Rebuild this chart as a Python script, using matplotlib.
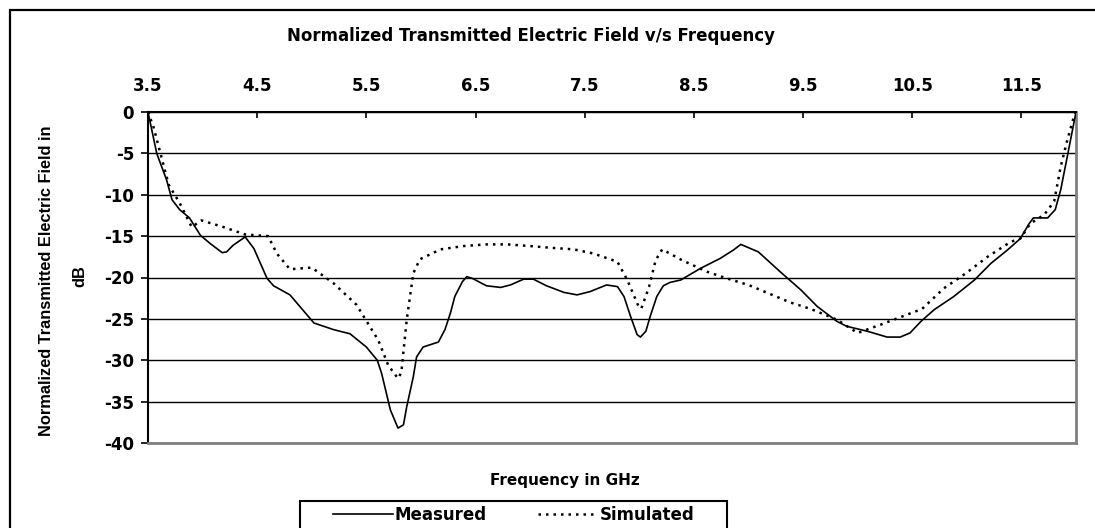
import matplotlib
matplotlib.use("Agg")
import matplotlib.pyplot as plt
from matplotlib.patches import Rectangle

# ---- data ----
meas_x = [3.50, 3.58, 3.67, 3.72, 3.79, 3.88, 3.98, 4.07, 4.18, 4.22, 4.28, 4.39, 4.47,
          4.59, 4.65, 4.80, 5.02, 5.20, 5.35, 5.50, 5.60, 5.64, 5.72, 5.79, 5.84, 5.87,
          5.93, 5.96, 6.02, 6.16, 6.22, 6.27, 6.31, 6.38, 6.42, 6.47, 6.60, 6.73, 6.82,
          6.94, 7.03, 7.15, 7.31, 7.43, 7.55, 7.70, 7.80, 7.86, 7.92, 7.98, 8.01, 8.06,
          8.10, 8.16, 8.22, 8.28, 8.38, 8.56, 8.74, 8.86, 8.93, 9.09, 9.29, 9.48, 9.63,
          9.81, 9.90, 10.09, 10.27, 10.39, 10.48, 10.58, 10.70, 10.88, 11.07, 11.22,
          11.37, 11.49, 11.57, 11.61, 11.74, 11.81, 11.86, 11.92, 12.00]
meas_y = [0.0, -5.0, -8.2, -10.6, -11.8, -12.8, -14.9, -15.9, -17.0, -16.9, -16.1, -15.1, -16.5,
          -20.1, -21.0, -22.1, -25.5, -26.3, -26.8, -28.4, -30.0, -31.6, -36.0, -38.2, -37.8, -35.6,
          -32.0, -29.6, -28.4, -27.8, -26.3, -24.3, -22.3, -20.5, -19.9, -20.1, -21.0, -21.2, -20.9,
          -20.2, -20.2, -21.0, -21.8, -22.1, -21.7, -20.9, -21.1, -22.3, -24.7, -26.9, -27.2, -26.5,
          -24.7, -22.3, -21.0, -20.6, -20.3, -18.9, -17.7, -16.7, -16.0, -16.9, -19.3, -21.5, -23.5,
          -25.3, -25.9, -26.5, -27.2, -27.2, -26.7, -25.3, -23.9, -22.3, -20.3, -18.3,
          -16.7, -15.3, -13.5, -12.8, -12.8, -11.8, -9.4, -5.4, 0.0]

sim_x = [3.50, 3.55, 3.59, 3.69, 3.79, 3.90, 3.99, 4.19, 4.39, 4.60, 4.68, 4.80, 5.00,
         5.20, 5.41, 5.61, 5.70, 5.79, 5.82, 5.87, 5.93, 5.99, 6.18, 6.39, 6.60, 6.79,
         7.00, 7.18, 7.40, 7.58, 7.80, 7.89, 8.00, 8.02, 8.09, 8.15, 8.21, 8.39, 8.62,
         8.80, 9.00, 9.38, 9.57, 9.81, 10.00, 10.21, 10.41, 10.59, 10.79, 10.99, 11.19,
         11.40, 11.49, 11.58, 11.71, 11.80, 11.86, 11.92, 11.98, 12.00]
sim_y = [0.0, -1.8, -3.8, -8.8, -11.0, -13.9, -13.1, -13.9, -14.8, -15.0, -17.1, -19.0, -18.8,
         -20.7, -23.3, -27.6, -30.6, -32.2, -31.5, -25.1, -19.5, -17.8, -16.6, -16.2, -16.0, -16.0,
         -16.2, -16.4, -16.6, -17.1, -18.1, -20.3, -23.7, -23.7, -21.1, -17.9, -16.6, -17.9, -19.3,
         -20.1, -20.9, -23.0, -23.8, -25.1, -26.7, -25.7, -24.7, -23.8, -21.3, -19.5, -17.5,
         -15.7, -15.3, -13.5, -12.4, -10.8, -6.6, -3.4, -0.6, 0.0]

x_ticks = [3.5, 4.5, 5.5, 6.5, 7.5, 8.5, 9.5, 10.5, 11.5]
x_tick_labels = ["3.5", "4.5", "5.5", "6.5", "7.5", "8.5", "9.5", "10.5", "11.5"]
y_ticks = [0, -5, -10, -15, -20, -25, -30, -35, -40]

W, H = 1095, 528
fig = plt.figure(figsize=(W / 100, H / 100), dpi=100)
fig.patch.set_facecolor("white")

# outer chart border
fig.patches.append(Rectangle((10 / W, -0.1), 1.2, 1 - 10 / H + 0.1,
                             transform=fig.transFigure, fill=False,
                             ec="black", lw=1.6, zorder=0))

ax = fig.add_axes([148 / W, 1 - 443 / H, (1076 - 148) / W, (443 - 112) / H])
l1, = ax.plot(meas_x, meas_y, color="black", lw=1.2, label="Measured", zorder=4)
l2, = ax.plot(sim_x, sim_y, color="black", lw=1.8, linestyle=(0, (1, 2)),
              label="Simulated", zorder=3)

ax.set_xlim(3.5, 12.0)
ax.set_ylim(-40, 0)
ax.set_xticks(x_ticks)
ax.set_xticklabels(x_tick_labels)
ax.set_yticks(y_ticks)
ax.set_yticklabels([str(v) for v in y_ticks])
ax.xaxis.tick_top()
ax.tick_params(axis="x", direction="in", length=4, width=1.2, pad=12,
               labelsize=12, colors="black")
ax.tick_params(axis="y", direction="out", length=5, width=1.2, pad=5,
               labelsize=12, colors="black")
for lab in ax.get_xticklabels() + ax.get_yticklabels():
    lab.set_fontweight("bold")
    lab.set_family("DejaVu Sans")

ax.yaxis.grid(True, color="black", lw=1.0)
ax.xaxis.grid(False)
ax.set_axisbelow(True)

ax.spines["left"].set_color("black")
ax.spines["left"].set_linewidth(1.5)
ax.spines["top"].set_color("black")
ax.spines["top"].set_linewidth(1.5)
ax.spines["bottom"].set_color("#808080")
ax.spines["bottom"].set_linewidth(2)
ax.spines["right"].set_color("#808080")
ax.spines["right"].set_linewidth(2)

fig.text(531 / W, 1 - 36 / H, "Normalized Transmitted Electric Field v/s Frequency",
         ha="center", va="center", fontsize=12, fontweight="bold", family="DejaVu Sans")
fig.text(565 / W, 1 - 480 / H, "Frequency in GHz", ha="center", va="center",
         fontsize=11, fontweight="bold", family="DejaVu Sans")
fig.text(47 / W, 1 - 281 / H, "Normalized Transmitted Electric Field in",
         rotation=90, ha="center", va="center", fontsize=11.8, fontweight="bold",
         family="Liberation Sans")
fig.text(80 / W, 1 - 276 / H, "dB", rotation=90, ha="center", va="center",
         fontsize=11.8, fontweight="bold", family="Liberation Sans")

# legend frame (extends past the bottom edge like the reference)
fig.patches.append(Rectangle((300 / W, -0.1), 427 / W, (1 - 501 / H) + 0.1,
                             transform=fig.transFigure, fill=False,
                             ec="black", lw=1.5, zorder=1))
leg = fig.legend(handles=[l1, l2], labels=["Measured", "Simulated"],
                 loc="center left", bbox_to_anchor=(333 / W, 1 - 515 / H),
                 ncol=2, frameon=False, borderaxespad=0, borderpad=0,
                 handlelength=3.6, handletextpad=0.08, columnspacing=3.1,
                 prop={"family": "DejaVu Sans", "weight": "bold", "size": 12})

fig.savefig("out.png", dpi=100, facecolor="white")
